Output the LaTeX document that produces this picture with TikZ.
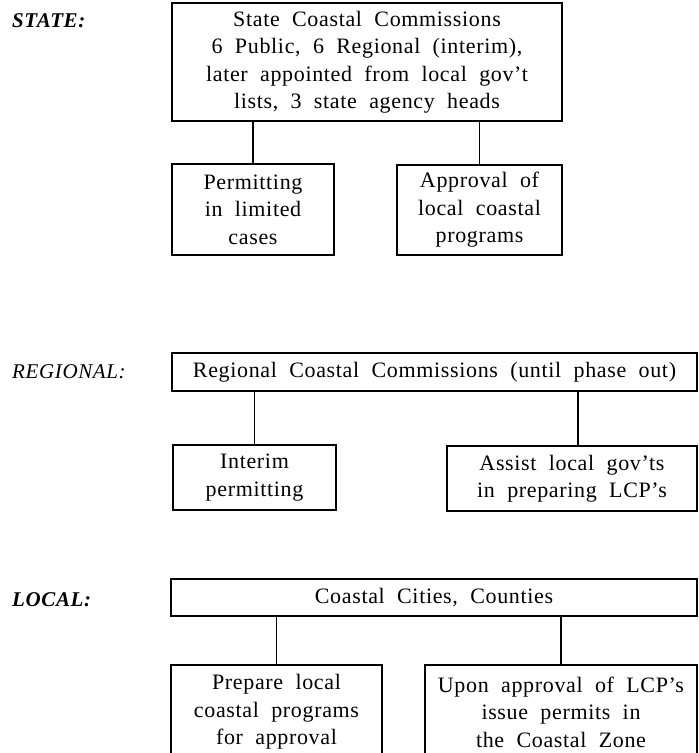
\documentclass[tikz,border=0pt]{standalone}
\usepackage{fontspec}
\setmainfont{Liberation Serif}[LetterSpace=3,WordSpace=2]
\begin{document}
\begin{tikzpicture}[x=1pt,y=-1pt,
  box/.style={draw,line width=1.3pt,rectangle,inner sep=0pt,align=center,
    font=\fontsize{22}{27.5}\selectfont},
  lvl/.style={anchor=base west,inner sep=0pt},
  conn/.style={line width=1.3pt}]
\useasboundingbox (0,0) rectangle (699,753);
\clip (0,0) rectangle (699,753);
% level labels
\node[lvl,font=\fontsize{21}{24}\selectfont\bfseries\itshape] (lstate) at (12,27) {STATE:};
\node[lvl,font=\fontsize{21}{24}\selectfont\itshape] (lregional) at (12,378) {REGIONAL:};
\node[lvl,font=\fontsize{21}{24}\selectfont\bfseries\itshape] (llocal) at (12,606) {LOCAL:};
% state level
\node[box,minimum width=390pt,minimum height=118pt] (state) at (367,62)
  {State Coastal Commissions\\6 Public, 6 Regional (interim),\\later appointed from local gov't\\lists, 3 state agency heads};
\node[box,minimum width=162pt,minimum height=91pt] (perm) at (253,209.5)
  {Permitting\\in limited\\cases};
\node[box,minimum width=165pt,minimum height=90pt] (appr) at (479.5,210)
  {Approval of\\local coastal\\programs};
% regional level
\node[box,minimum width=525pt,minimum height=38pt] (regional) at (434.5,372)
  {Regional Coastal Commissions (until phase out)};
\node[box,minimum width=163pt,minimum height=65pt] (interim) at (254.5,477.5)
  {Interim\\permitting};
\node[box,minimum width=250pt,minimum height=65pt] (assist) at (572,478.5)
  {Assist local gov'ts\\in preparing LCP's};
% local level
\node[box,minimum width=526pt,minimum height=37pt] (local) at (434,597.5)
  {Coastal Cities, Counties};
\node[box,minimum width=211pt,minimum height=94pt] (prepare) at (276.5,712)
  {Prepare local\\coastal programs\\for approval};
\node[box,minimum width=272pt,minimum height=94pt] (upon) at (561,712)
  {Upon approval of LCP's\\issue permits in\\the Coastal Zone};
% connectors
\draw[conn] (perm.north) -- (perm.north |- state.south);
\draw[conn] (appr.north) -- (appr.north |- state.south);
\draw[conn] (interim.north) -- (interim.north |- regional.south);
\coordinate (assisttop) at ([xshift=6pt]assist.north);
\draw[conn] (assisttop) -- (assisttop |- regional.south);
\draw[conn] (prepare.north) -- (prepare.north |- local.south);
\draw[conn] (upon.north) -- (upon.north |- local.south);
\end{tikzpicture}
\end{document}
